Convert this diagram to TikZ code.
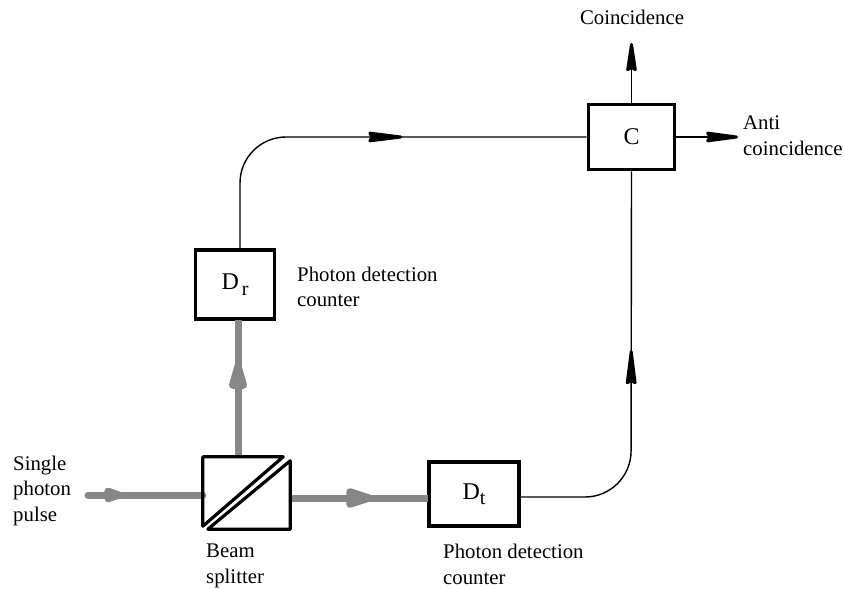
\documentclass[tikz,border=0pt]{standalone}
\usepackage{fontspec}
\setmainfont{Liberation Serif}
\usetikzlibrary{arrows.meta,decorations.markings,calc}
\definecolor{beamgrey}{gray}{0.53}
\tikzset{
  x=1pt,y=-1pt,
  boxnode/.style={draw=black,line width=3.6pt,fill=white,inner sep=0pt,font=\fontsize{24}{26}\selectfont,anchor=center},
  lbl/.style={font=\fontsize{20.8}{25.7}\selectfont,align=left,anchor=north west,inner sep=0pt},
  sig/.style={draw=black,line width=1.4pt},
  beam/.style={draw=beamgrey,line width=7pt},
  sigtip/.style={-{Stealth[length=#1pt,width=11pt,inset=3pt,round,line width=3pt]}},
  sigmid/.style={postaction={decorate},decoration={markings,mark=at position #1 with {\arrow{Stealth[length=46pt,width=11pt,inset=3pt,round,line width=3pt]}}}},
  beammid/.style args={#1/#2/#3}{postaction={decorate},decoration={markings,mark=at position #1 with {\arrow[beamgrey]{Stealth[length=#2pt,width=#3pt,inset=0pt,round]}}}},
}
\newcommand{\subr}[2]{\hspace{#1pt}\raisebox{-5.5pt}{\fontsize{20}{22}\selectfont #2}}
\begin{document}
\begin{tikzpicture}
\useasboundingbox (0,0) rectangle (844,589);
\fill[white] (0,0) rectangle (844,589);
\node[boxnode,minimum width=86pt,minimum height=65pt] (C) at (631.5,137) {C\hspace{4pt}};
\node[boxnode,minimum width=79pt,minimum height=69pt] (Dr) at (235,284.5) {D\subr{3}{r}};
\node[boxnode,minimum width=90pt,minimum height=64pt] (Dt) at (474,494) {D\subr{0}{t}\hspace{3pt}};
\node[minimum width=87pt,minimum height=72pt,inner sep=0pt] (BS) at (246.5,493) {};
\coordinate (In) at (88,495);
\coordinate (CoTop) at (631.5,43);
\coordinate (AntiEnd) at (738,137);
\coordinate (CornerR) at (240,137);
\coordinate (CornerT) at (631,497);
% beams
\draw[beam,line cap=round,beammid=0.30/28/15] (In) -- (BS.west |- In);
\draw[beam,beammid=0.69/38/18] (238,457) -- (238,320);
\draw[beam,beammid=0.60/36/20] (290,498) -- (428,498);
% signal lines
\draw[sig,rounded corners=46pt,sigmid=0.58] (240,249) -- (CornerR) -- (C.west);
\draw[sig,rounded corners=46pt,sigmid=0.57] (Dt.east |- CornerT) -- (CornerT) -- (C.south);
\draw[sig,sigtip=38] (C.north) -- (CoTop);
\draw[sig,sigtip=43] (C.east) -- (AntiEnd);
% splitter
\draw[line width=3.2pt,line join=round,line cap=round] (BS.south west) ++(0,-3) -- (BS.north west) -- ($(BS.north east)+(-7,0)$) -- cycle;
\draw[line width=3.2pt,line join=round,line cap=round] ($(BS.north east)+(0,4)$) -- (BS.south east) -- ($(BS.south west)+(5,0)$) -- cycle;
% labels
\node[lbl,anchor=north] (t1) at (632,10) {Coincidence};
\node[lbl] (t2) at (743,116) {Anti\\coincidence};
\node[lbl] (t3) at (297,266.5) {Photon detection\\counter};
\node[lbl] (t4) at (13,455.5) {Single\\photon\\pulse};
\node[lbl] (t5) at (206,543.5) {Beam\\splitter};
\node[lbl] (t6) at (443,544) {Photon detection\\counter};
\end{tikzpicture}
\end{document}
